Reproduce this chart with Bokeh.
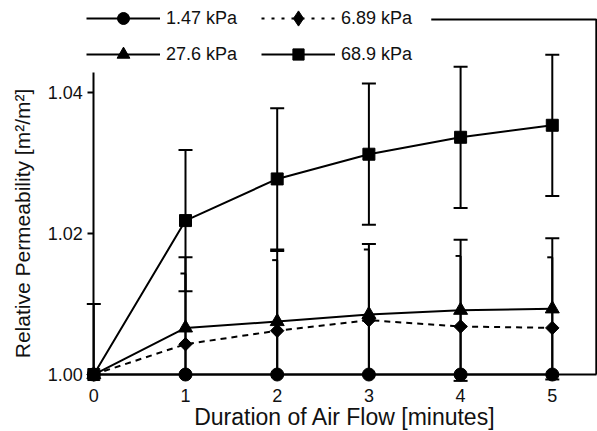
from math import pi

from bokeh.embed import file_html
from bokeh.models import FixedTicker, Legend, LegendItem, NumeralTickFormatter, Range1d
from bokeh.plotting import figure
from bokeh.resources import INLINE

# Relative permeability after air flow, one series per applied pressure
minutes = [0, 1, 2, 3, 4, 5]
labels = ["1.47 kPa", "6.89 kPa", "27.6 kPa", "68.9 kPa"]

perm_147 = [1.000, 1.000, 1.000, 1.000, 1.000, 1.000]
perm_689 = [1.000, 1.0043, 1.0062, 1.0077, 1.0068, 1.0066]
perm_276 = [1.000, 1.0066, 1.0075, 1.0085, 1.0091, 1.0093]
perm_6890 = [1.000, 1.0218, 1.0277, 1.0312, 1.0336, 1.0353]

err_147 = [0.0, 0.0, 0.0, 0.0, 0.0, 0.0]
err_689 = [0.0, 0.010, 0.010, 0.010, 0.010, 0.010]
err_276 = [0.0, 0.010, 0.010, 0.010, 0.010, 0.010]
err_6890 = [0.010, 0.010, 0.010, 0.010, 0.010, 0.010]

y_ticks = [1.00, 1.02, 1.04]

FONT = "Liberation Sans"
INK = "black"
TEXT = "#111111"
BASE = 1.0  # bottom of the value axis
H = 431

# the frame fills the whole canvas; the axes are pinned at (0, 1.00)
p = figure(
    width=597, height=H,
    output_backend="svg", toolbar_location=None,
    x_range=Range1d(-1.0175, 5.493),
    y_range=Range1d(0.99193, 1.05297),
    min_border_left=0, min_border_right=0,
    min_border_top=0, min_border_bottom=0,
)
p.outline_line_color = None
p.grid.visible = False
p.background_fill_color = "white"
p.border_fill_color = "white"

xa = p.xaxis[0]
ya = p.yaxis[0]
xa.fixed_location = BASE
ya.fixed_location = 0

xa.bounds = (0, 5.48)
xa.ticker = FixedTicker(ticks=minutes)
xa.major_tick_out = 0
xa.major_tick_in = 0
xa.minor_tick_out = 0
xa.minor_tick_in = 0
xa.major_label_standoff = 14
xa.axis_label = "Duration of Air Flow [minutes]"
xa.axis_label_standoff = -1

ya.bounds = (1.0, 1.0428)
ya.ticker = FixedTicker(ticks=y_ticks)
ya.formatter = NumeralTickFormatter(format="0.00")
ya.major_tick_out = 6
ya.major_tick_in = 0
ya.minor_tick_out = 0
ya.minor_tick_in = 0
ya.major_label_standoff = 5
ya.axis_label = "Relative Permeability [m²/m²]"
ya.axis_label_standoff = 10

for ax in (xa, ya):
    ax.axis_line_width = 2
    ax.axis_line_color = INK
    ax.major_tick_line_width = 2
    ax.major_tick_line_color = INK
    ax.major_label_text_font = FONT
    ax.major_label_text_font_size = "18px"
    ax.major_label_text_color = TEXT
    ax.axis_label_text_font = FONT
    ax.axis_label_text_font_style = "normal"
    ax.axis_label_text_color = TEXT
xa.axis_label_text_font_size = "23px"
ya.axis_label_text_font_size = "21px"

# partial box: right side and top edge beside the legend
box_top = 1.05028
box_right = 5.48
p.line([3.68, box_right, box_right], [box_top, box_top, BASE], line_color=INK, line_width=2)

series = [
    (perm_147, err_147, "solid", "full"),
    (perm_689, err_689, "6 5", "half"),
    (perm_276, err_276, "solid", "full"),
    (perm_6890, err_6890, "solid", "full"),
]

line_rs = []
for vals, errs, dash, cap in series:
    line_rs.append(p.line(minutes, vals, line_color=INK, line_width=2, line_dash=dash))

# error bars: shafts, then caps (the lower part stops at the x axis)
for vals, errs, dash, cap in series:
    xs, top, bot = [], [], []
    for x, v, e in zip(minutes, vals, errs):
        if e > 0:
            xs.append(x)
            top.append(v + e)
            bot.append(max(v - e, BASE))
    if not xs:
        continue
    p.segment(x0=xs, y0=bot, x1=xs, y1=top, line_color=INK, line_width=2)

    low = [(x, v - e) for x, v, e in zip(minutes, vals, errs) if e > 0 and v - e >= BASE - 0.001]
    if cap == "full":
        p.scatter(xs, top, marker="dash", size=14, line_color=INK, line_width=2)
        if low:
            p.scatter([a for a, _ in low], [b for _, b in low], marker="dash", size=14,
                      line_color=INK, line_width=2)
    else:
        p.segment(x0=[x - 0.055 for x in xs], y0=top, x1=xs, y1=top,
                  line_color=INK, line_width=2)

kw = dict(fill_color=INK, line_color=INK, line_width=1)
m_circle = p.scatter(minutes, perm_147, marker="circle", size=13, **kw)
m_tri = p.scatter(minutes, perm_276, marker="triangle", size=14, **kw)
m_diam = p.scatter(minutes, perm_689, marker="diamond", size=13, **kw)
# wider diamonds drawn over the plain ones
p.scatter(minutes, perm_689, marker="square", size=9.5, angle=pi / 4, **kw)
m_square = p.scatter(minutes, perm_6890, marker="square", size=12, **kw)
markers = [m_circle, m_diam, m_tri, m_square]

# legend key for the dashed series uses a finer dotted stroke
key_dash = p.line([0], [BASE], line_color=INK, line_width=2, line_dash="3 7")
key_lines = [line_rs[0], key_dash, line_rs[2], line_rs[3]]


def legend_entry(i, left, cy, gh):
    leg = Legend(
        items=[LegendItem(label=labels[i], renderers=[key_lines[i], markers[i]])],
        location=(left, H - cy - gh / 2),
        glyph_width=74, glyph_height=gh, label_standoff=6,
        padding=0, margin=0, border_line_color=None, background_fill_alpha=0,
        label_text_font=FONT, label_text_font_size="18px", label_text_color=TEXT,
        label_height=gh,
    )
    p.add_layout(leg)


legend_entry(0, 86, 18.3, 30)
legend_entry(1, 261, 18.3, 38)
legend_entry(2, 86, 54.0, 32)
legend_entry(3, 261, 54.0, 28)

with open("out.html", "w") as f:
    f.write(file_html(p, INLINE))
